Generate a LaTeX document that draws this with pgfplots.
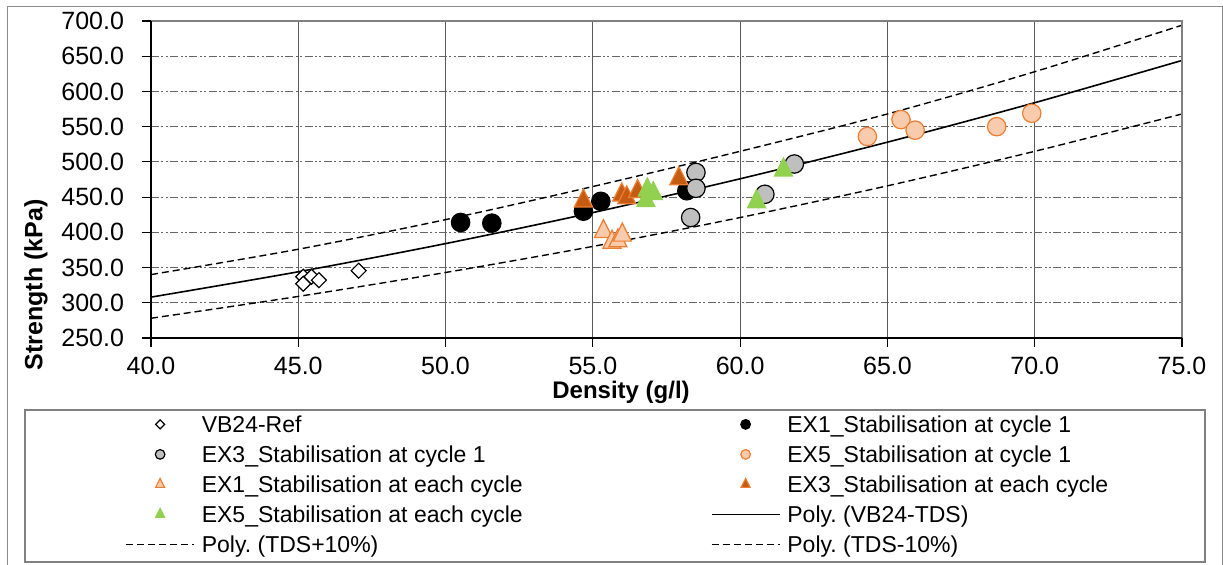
\documentclass[border=0pt]{standalone}
\usepackage{fontspec}
\setmainfont{Liberation Sans}
\usepackage{pgfplots}
\pgfplotsset{compat=1.18}
\definecolor{peach}{HTML}{F8CBAD}
\definecolor{orng}{HTML}{ED7D31}
\definecolor{dkorng}{HTML}{C55A11}
\definecolor{grn}{HTML}{92D050}
\definecolor{gry}{HTML}{BFBFBF}
\frenchspacing

\begin{document}
\begin{tikzpicture}
\begin{axis}[
  at={(75.5pt,113.5pt)}, anchor=south west,
  scale only axis, width=515.5pt, height=158.5pt,
  xmin=40, xmax=75, ymin=250, ymax=700,
  xtick={40,45,...,75}, ytick={250,300,...,700},
  axis line style={draw=none},
  tick align=outside, major tick length=4.5pt,
  xtick pos=bottom, ytick pos=left,
  tick style={black, line width=0.6pt},
  xmajorgrids, ymajorgrids,
  x grid style={black!65, line width=0.6pt},
  y grid style={black!60, line width=0.6pt, dash pattern=on 4pt off 1.2pt on 1pt off 1.2pt on 1pt off 1.2pt},
  tick label style={font=\fontsize{12.5}{14}\selectfont},
  yticklabel style={xshift=-5.5pt},
  xticklabel style={yshift=-1.5pt},
  /pgf/number format/fixed, /pgf/number format/fixed zerofill,
  /pgf/number format/precision=1, /pgf/number format/assume math mode=true,
  xlabel={Density (g/l)}, ylabel={Strength (kPa)},
  xlabel style={font=\bfseries\fontsize{12}{14}\selectfont,
    at={(axis description cs:0.4559,-0.1704)}, anchor=center},
  ylabel style={font=\bfseries\fontsize{12.5}{14}\selectfont,
    at={(axis description cs:-0.1115,0.167)}, anchor=center},
  legend columns=2,
  legend style={at={(axis description cs:-0.0252,-0.2303)}, anchor=north west,
    draw=none, fill=none, inner sep=0pt, font=\fontsize{11.5}{13}\selectfont,
    column sep=3.5pt, row sep=0pt,
    nodes={inner sep=0pt, text height=10.5pt, text depth=4.5pt, anchor=base west}},
  legend cell align=left,
  legend image code/.code={\path (0pt,0pt) (34pt,8pt);
    \draw[mark repeat=2, mark phase=2, #1] plot coordinates {(0pt,4pt) (17pt,4pt) (34pt,4pt)};},
]
% VB24-Ref
\addplot[only marks, mark=square*, mark size=2.65pt,
  mark options={rotate=45, fill=white, draw=black, line width=0.6pt},
  legend image post style={mark size=1.6pt}]
  coordinates {(45.17,337) (45.17,327) (45.45,337) (45.70,332) (47.05,345.5)};
\addlegendentry{\makebox[251pt][l]{VB24-Ref}}
% EX1 cycle 1
\addplot[only marks, mark=*, mark size=4.6pt,
  mark options={fill=black, draw=black, line width=0.6pt},
  legend image post style={mark size=2.4pt}]
  coordinates {(50.51,414) (51.57,413) (54.68,430) (55.27,444) (58.19,459)};
\addlegendentry{EX1\_Stabilisation at cycle 1}
% EX3 cycle 1
\addplot[only marks, mark=*, mark size=4.6pt,
  mark options={fill=gry, draw=black, line width=0.6pt},
  legend image post style={mark size=2.4pt}]
  coordinates {(58.5,485) (58.5,462.5) (58.32,421) (61.84,497) (60.84,454)};
\addlegendentry{\makebox[251pt][l]{EX3\_Stabilisation at cycle 1}}
% EX5 cycle 1
\addplot[only marks, mark=*, mark size=4.6pt,
  mark options={fill=peach, draw=orng, line width=0.6pt},
  legend image post style={mark size=2.4pt}]
  coordinates {(64.32,536) (65.46,560) (65.94,545) (68.71,550) (69.9,569)};
\addlegendentry{EX5\_Stabilisation at cycle 1}
% EX1 each cycle
\addplot[only marks, mark=triangle*, mark size=5.2pt,
  mark options={yscale=1.15, fill=peach, draw=orng, line width=0.6pt},
  legend image post style={mark size=2.6pt}]
  coordinates {(55.36,401) (55.65,386) (55.85,388) (56.0,396)};
\addlegendentry{\makebox[251pt][l]{EX1\_Stabilisation at each cycle}}
% EX3 each cycle
\addplot[only marks, mark=triangle*, mark size=5.2pt,
  mark options={yscale=1.15, fill=dkorng, draw=orng, line width=0.6pt},
  legend image post style={mark size=2.6pt}]
  coordinates {(54.68,444.5) (55.98,453) (56.15,449) (56.52,458) (57.92,476)};
\addlegendentry{EX3\_Stabilisation at each cycle}
% EX5 each cycle
\addplot[only marks, mark=triangle*, mark size=5.2pt,
  mark options={yscale=1.15, fill=grn, draw=grn, line width=0.6pt},
  legend image post style={mark size=2.6pt}]
  coordinates {(56.85,460) (57.05,455) (56.8,445) (61.47,488.5) (60.56,443.5)};
\addlegendentry{\makebox[251pt][l]{EX5\_Stabilisation at each cycle}}
% trend lines
\addplot[black, line width=0.8pt, smooth, mark=none]
  coordinates {(40,308) (45,344) (50,384) (55,428) (60,476) (65,528) (70,584) (75,644)};
\addlegendentry{Poly. (VB24-TDS)}
\addplot[black, line width=0.7pt, smooth, mark=none, dash pattern=on 3.5pt off 2pt]
  coordinates {(40,340) (45,376) (50,418) (55,465) (60,515) (65,568) (70,628) (75,694)};
\addlegendentry{\makebox[251pt][l]{Poly. (TDS+10\%)}}
\addplot[black, line width=0.7pt, smooth, mark=none, dash pattern=on 3.5pt off 2pt]
  coordinates {(40,278) (45,309) (50,343) (55,380) (60,421) (65,466) (70,515) (75,568)};
\addlegendentry{Poly. (TDS-10\%)}
\end{axis}
% axis frame: black left/bottom, grey top/right
\draw[black!50, line width=1.3pt] (75.5pt,272pt) -- (591pt,272pt) -- (591pt,113.5pt);
\draw[black, line width=1pt] (75.5pt,272pt) -- (75.5pt,113.5pt) -- (591pt,113.5pt);
% legend frame and chart border
\draw[black!50, line width=0.6pt] (12.5pt,1.5pt) rectangle (602.5pt,77.5pt);
\draw[black!45, line width=0.5pt] (3.5pt,-10pt) -- (3.5pt,279pt) -- (611pt,279pt) -- (611pt,-10pt);
\pgfresetboundingbox
\path[use as bounding box] (0pt,0pt) rectangle (611.5pt,282.5pt);
\end{tikzpicture}
\end{document}
